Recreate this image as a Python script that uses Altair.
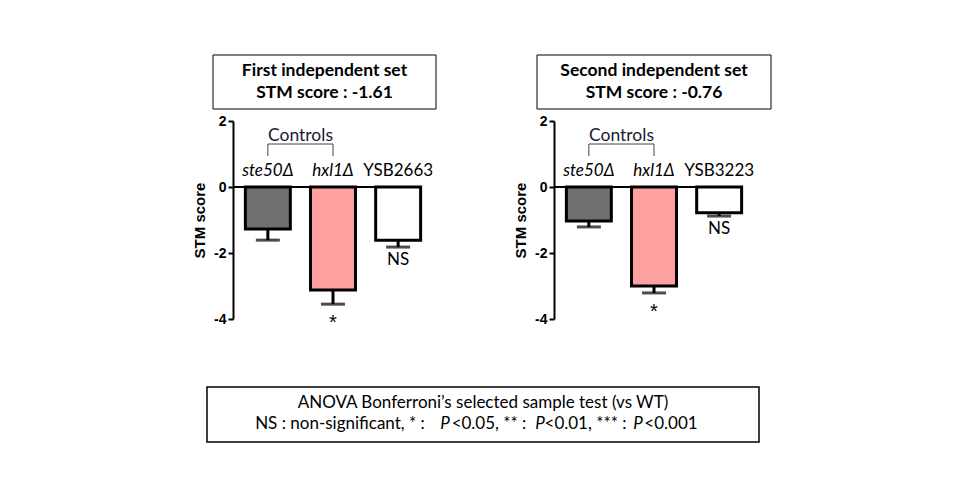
import altair as alt
import pandas as pd

# ---------------- data ----------------
groups_1 = ["ste50Δ", "hxl1Δ", "YSB2663"]
means_1 = [-1.27, -3.12, -1.61]
lower_1 = [-1.61, -3.55, -1.82]
sig_1 = ["", "*", "NS"]

groups_2 = ["ste50Δ", "hxl1Δ", "YSB3223"]
means_2 = [-1.03, -3.00, -0.78]
lower_2 = [-1.21, -3.21, -0.88]
sig_2 = ["", "*", "NS"]

italic_flags = [True, True, False]
bar_fills = ["#707070", "#FFA0A0", "#FFFFFF"]

titles_1 = ["First independent set", "STM score : -1.61"]
titles_2 = ["Second independent set", "STM score : -0.76"]
controls_label = ["Controls"]
y_ticks = [2, 0, -2, -4]
y_domain = [-4, 2]

footnote_line1 = ["ANOVA Bonferroni’s selected sample test (vs WT)"]
footnote_segments = ["NS : non-significant, * :", "P", "<0.05, ** :", "P",
                     "<0.01, *** :", "P", "<0.001"]
footnote_italic = [False, True, False, True, False, True, False]

# ---------------- layout / style ----------------
W, H = 200, 198
FONT = "Lato"
AXFONT = "Liberation Sans"
TXT = 17
footnote_cx = [107, 212, 256, 307, 352.5, 405, 438]  # centre x of each segment (px)


def one(v):
    return pd.DataFrame({"t": [v]})


def panel(groups, means, lower, sig, titles, box_x0, box_x1):
    df = pd.DataFrame({"group": groups, "mean": means, "lower": lower,
                       "sig": sig, "italic": italic_flags, "fillc": bar_fills})
    xsc = alt.Scale(domain=groups, paddingInner=0.31, paddingOuter=0.19)
    x = alt.X("group:N", scale=xsc, axis=None, sort=groups)
    ysc = alt.Scale(domain=y_domain, nice=False, zero=False)
    base = alt.Chart(df)

    bars = base.mark_bar(stroke="black", strokeWidth=3).encode(
        x=x,
        y=alt.Y("mean:Q", scale=ysc, title="STM score",
                axis=alt.Axis(values=y_ticks, labelExpr="'' + datum.value",
                              domainColor="black", domainWidth=2,
                              tickColor="black", tickWidth=2, tickSize=5,
                              labelFont=AXFONT, labelFontWeight="bold",
                              labelFontSize=14, labelColor="black", labelPadding=2,
                              titleFont=AXFONT, titleFontWeight="bold",
                              titleFontSize=15, titleColor="black", titlePadding=6,
                              grid=False)),
        y2=alt.datum(0),
        fill=alt.Fill("fillc:N", scale=None),
    )
    zero = alt.Chart(one(0)).mark_rule(color="black", strokeWidth=2).encode(
        x=alt.value(0), x2=alt.value(188), y=alt.datum(0))
    err = base.mark_rule(color="black", strokeWidth=3).encode(
        x=x, y="mean:Q", y2="lower:Q")
    cap = base.mark_tick(color="black", thickness=3, size=24).encode(
        x=x, y="lower:Q")
    lab_it = base.transform_filter("datum.italic").mark_text(
        font=FONT, fontSize=TXT, fontStyle="italic", color="black",
        baseline="middle").encode(x=x, y=alt.value(50), text="group:N")
    lab_up = base.transform_filter("!datum.italic").mark_text(
        font=FONT, fontSize=TXT, color="black",
        baseline="middle").encode(x=x, y=alt.value(50), text="group:N")
    ctrl = alt.Chart(one(controls_label[0])).mark_text(
        font=FONT, fontSize=17.5, color="#1a1a30", baseline="middle").encode(
        x=alt.value(67.5), y=alt.value(15), text="t:N")
    br_h = alt.Chart(one(0)).mark_rule(color="#444", strokeWidth=1).encode(
        x=alt.value(35), x2=alt.value(100), y=alt.value(23))
    br_v = base.transform_filter("datum.italic").mark_rule(
        color="#444", strokeWidth=1).encode(x=x, y=alt.value(23), y2=alt.value(35))
    sig_ns = base.transform_filter("datum.sig == 'NS'").mark_text(
        font=FONT, fontSize=TXT, color="black", baseline="middle", dy=13).encode(
        x=x, y="lower:Q", text="sig:N")
    sig_star = base.transform_filter("datum.sig == '*'").mark_text(
        font=AXFONT, fontSize=20, color="black", baseline="middle", dy=19).encode(
        x=x, y="lower:Q", text="sig:N")
    box = alt.Chart(one(0)).mark_rect(fill="white", stroke="black", strokeWidth=1).encode(
        x=alt.value(box_x0), x2=alt.value(box_x1), y=alt.value(-66), y2=alt.value(-12))
    cx = (box_x0 + box_x1) / 2
    t1 = alt.Chart(one(titles[0])).mark_text(
        font=FONT, fontSize=17.5, fontWeight="bold", color="black", baseline="middle").encode(
        x=alt.value(cx), y=alt.value(-50), text="t:N")
    t2 = alt.Chart(one(titles[1])).mark_text(
        font=FONT, fontSize=17.5, fontWeight="bold", color="black", baseline="middle").encode(
        x=alt.value(cx), y=alt.value(-28), text="t:N")
    return [bars, zero, err, cap, lab_it, lab_up, ctrl, br_h, br_v,
            sig_ns, sig_star, box, t1, t2]


layers1 = panel(groups_1, means_1, lower_1, sig_1, titles_1, -20, 203)
layers2 = panel(groups_2, means_2, lower_2, sig_2, titles_2, -17, 217)

# footnote box (drawn in panel 1 coordinates)
fbox = alt.Chart(one(0)).mark_rect(fill="white", stroke="black", strokeWidth=1.5).encode(
    x=alt.value(-26), x2=alt.value(526), y=alt.value(266), y2=alt.value(321))
fl1 = alt.Chart(one(footnote_line1[0])).mark_text(
    font=FONT, fontSize=TXT, color="black", baseline="middle").encode(
    x=alt.value(250), y=alt.value(282), text="t:N")
fsegs = []
for seg, it, sx in zip(footnote_segments, footnote_italic, footnote_cx):
    fsegs.append(alt.Chart(one(seg)).mark_text(
        font=FONT, fontSize=TXT, color="black", baseline="middle", align="center",
        fontStyle="italic" if it else "normal").encode(
        x=alt.value(sx), y=alt.value(303), text="t:N"))

p1 = alt.layer(*layers1, fbox, fl1, *fsegs).properties(width=W, height=H)
p2 = alt.layer(*layers2).properties(width=W, height=H)

chart = alt.hconcat(p1, p2, spacing=121, bounds="flush").properties(
    padding={"left": 184, "top": 46, "right": 5, "bottom": 5}
).configure_view(stroke=None)

chart.save("out.html", embed_options={"renderer": "svg", "actions": False})
